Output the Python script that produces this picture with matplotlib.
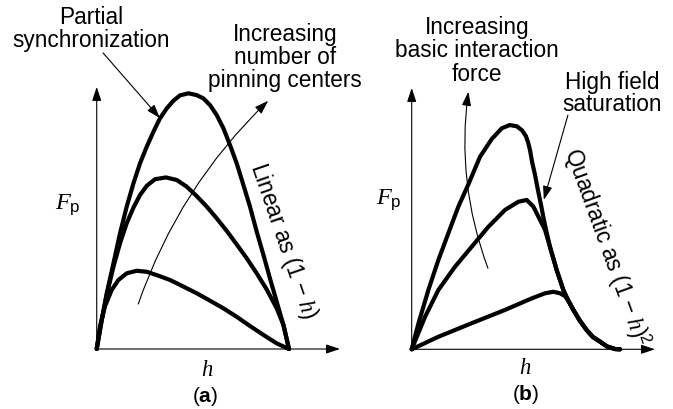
import matplotlib.pyplot as plt
import matplotlib.transforms as mtransforms

plt.rcParams['font.family'] = ['Liberation Sans', 'DejaVu Sans']
plt.rcParams['mathtext.fontset'] = 'custom'
plt.rcParams['mathtext.rm'] = 'Liberation Sans'
plt.rcParams['mathtext.it'] = 'Liberation Serif:italic'
plt.rcParams['mathtext.bf'] = 'Liberation Sans:bold'

# --- panel (a) : F_p(h), h in units of the upper field ---
a_top_h = [0, 0.026, 0.052, 0.087, 0.121, 0.156, 0.191, 0.225, 0.260, 0.295,
           0.329, 0.364, 0.399, 0.433, 0.477, 0.520, 0.555, 0.589, 0.624,
           0.659, 0.693, 0.728, 0.763, 0.797, 0.832, 0.867, 0.901, 0.936,
           0.971, 1.0]
a_top_f = [0, 0.113, 0.218, 0.335, 0.452, 0.557, 0.648, 0.726, 0.791, 0.850,
           0.902, 0.941, 0.971, 0.992, 1.0, 0.993, 0.980, 0.954, 0.915,
           0.863, 0.798, 0.726, 0.641, 0.557, 0.459, 0.368, 0.276, 0.185,
           0.094, 0]

a_mid_h = [0, 0.026, 0.052, 0.087, 0.121, 0.156, 0.191, 0.225, 0.260, 0.303,
           0.360, 0.416, 0.468, 0.520, 0.572, 0.624, 0.676, 0.728, 0.780,
           0.832, 0.884, 0.936, 0.971, 1.0]
a_mid_f = [0, 0.113, 0.211, 0.322, 0.413, 0.492, 0.553, 0.602, 0.638, 0.664,
           0.671, 0.661, 0.635, 0.598, 0.557, 0.511, 0.462, 0.409, 0.355,
           0.296, 0.233, 0.159, 0.094, 0]

a_low_h = [0, 0.017, 0.043, 0.078, 0.113, 0.156, 0.208, 0.260, 0.312, 0.381,
           0.451, 0.520, 0.589, 0.659, 0.728, 0.797, 0.867, 0.936, 1.0]
a_low_f = [0, 0.089, 0.167, 0.231, 0.270, 0.296, 0.306, 0.302, 0.289, 0.270,
           0.244, 0.218, 0.189, 0.159, 0.126, 0.090, 0.055, 0.022, 0]

# --- panel (b) ---
b_top_h = [0, 0.032, 0.080, 0.128, 0.176, 0.224, 0.272, 0.328, 0.384, 0.432,
           0.470, 0.505, 0.530, 0.548, 0.558, 0.568, 0.578, 0.592, 0.606,
           0.621, 0.633, 0.645, 0.664, 0.696, 0.728, 0.750, 0.776, 0.808,
           0.840, 0.870, 0.904, 0.938, 0.976, 1.0]
b_top_f = [0, 0.100, 0.232, 0.349, 0.454, 0.558, 0.645, 0.753, 0.822, 0.864,
           0.877, 0.872, 0.856, 0.834, 0.811, 0.779, 0.733, 0.682, 0.623,
           0.564, 0.513, 0.467, 0.400, 0.310, 0.232, 0.193, 0.154, 0.111,
           0.075, 0.048, 0.030, 0.011, 0.001, 0]

b_mid_h = [0, 0.064, 0.128, 0.208, 0.288, 0.368, 0.448, 0.512, 0.552, 0.584,
           0.616, 0.640, 0.664, 0.696, 0.728, 0.750, 0.776, 0.808, 0.840,
           0.870, 0.904, 0.938, 0.976, 1.0]
b_mid_f = [0, 0.127, 0.232, 0.323, 0.401, 0.479, 0.545, 0.577, 0.584, 0.558,
           0.506, 0.467, 0.400, 0.310, 0.232, 0.193, 0.154, 0.111, 0.075,
           0.048, 0.030, 0.011, 0.001, 0]

b_low_h = [0, 0.128, 0.288, 0.448, 0.576, 0.640, 0.680, 0.712, 0.736, 0.755,
           0.776, 0.808, 0.840, 0.870, 0.904, 0.938, 0.976, 1.0]
b_low_f = [0, 0.049, 0.102, 0.154, 0.199, 0.219, 0.225, 0.219, 0.208, 0.186,
           0.154, 0.111, 0.075, 0.048, 0.030, 0.011, 0.001, 0]

W, H = 673, 409
fig = plt.figure(figsize=(W / 100, H / 100), dpi=100)
# pixel coordinates, y downwards, for the labels
pix = mtransforms.Affine2D().scale(1 / W, -1 / H).translate(0, 1) + fig.transFigure

ax_a = fig.add_axes([0, 0, 0.5, 1])
ax_a.set_xlim(-0.503, 1.247)
ax_a.set_ylim(-0.2347, 1.365)
ax_b = fig.add_axes([0.5, 0, 0.5, 1])
ax_b.set_xlim(-0.361, 1.2544)
ax_b.set_ylim(-0.2335, 1.366)

curve = dict(color='black', lw=3.0, solid_joinstyle='round', solid_capstyle='round')
thin = dict(arrowstyle='-|>,head_length=0.6,head_width=0.2', lw=0.8,
            color='black', mutation_scale=14, shrinkA=0, shrinkB=0)

for ax, xtip, ytip in [(ax_a, 1.265, 1.025), (ax_b, 1.168, 1.022)]:
    ax.axis('off')
    ax.annotate('', xy=(xtip, 0), xytext=(0, 0), arrowprops=thin, annotation_clip=False)
    ax.annotate('', xy=(0, ytip), xytext=(0, 0), arrowprops=thin, annotation_clip=False)

ax_a.plot(a_top_h, a_top_f, **curve)
ax_a.plot(a_mid_h, a_mid_f, **curve)
ax_a.plot(a_low_h, a_low_f, **curve)
ax_b.plot(b_top_h, b_top_f, **curve)
ax_b.plot(b_mid_h, b_mid_f, **curve)
ax_b.plot(b_low_h, b_low_f, **curve)

# pointer arrows
ax_a.annotate('', xy=(0.329, 0.903), xytext=(0.033, 1.158), arrowprops=thin)
ax_a.annotate('', xy=(0.892, 0.971), xytext=(0.216, 0.176),
              arrowprops=dict(thin, connectionstyle='arc3,rad=-0.12'))
ax_b.annotate('', xy=(0.272, 1.007), xytext=(0.366, 0.317),
              arrowprops=dict(thin, connectionstyle='arc3,rad=-0.125'))
ax_b.annotate('', xy=(0.634, 0.584), xytext=(0.750, 0.916), arrowprops=thin)

fs = 16.3
def lines(x, ys, texts):
    for y, t in zip(ys, texts):
        fig.text(x, y, t, transform=pix, ha='center', va='baseline', fontsize=fs)

lines(91.5, [24, 47.3], ['Partial', 'synchronization'])
lines(285, [40.5, 64, 87], ['Increasing', 'number of', 'pinning centers'])
lines(477, [34, 57.3, 80.7], ['Increasing', 'basic interaction', 'force'])
lines(612, [89, 111], ['High field', 'saturation'])

fig.text(283, 241, r'Linear as $(1\,-\,h)$', transform=pix, fontsize=fs,
         rotation=-71, rotation_mode='anchor', ha='center', va='center')
fig.text(606, 247, r'Quadratic as $(1\,-\,h)^2$', transform=pix, fontsize=fs,
         rotation=-70, rotation_mode='anchor', ha='center', va='center')

for x, y in [(68, 205), (389, 200)]:
    fig.text(x, y, r'$F_\mathrm{p}$', transform=pix, fontsize=17.5, ha='center', va='center')
for x, y, lab in [(207, 370, r'$h$'), (525, 367, r'$h$')]:
    fig.text(x, y, lab, transform=pix, fontsize=fs, ha='center', va='center')
fig.text(205, 396, r'$(\mathbf{a})$', transform=pix, fontsize=15, ha='center', va='center')
fig.text(526, 395, r'$(\mathbf{b})$', transform=pix, fontsize=15, ha='center', va='center')

fig.savefig('out.png', dpi=100, facecolor='white')
